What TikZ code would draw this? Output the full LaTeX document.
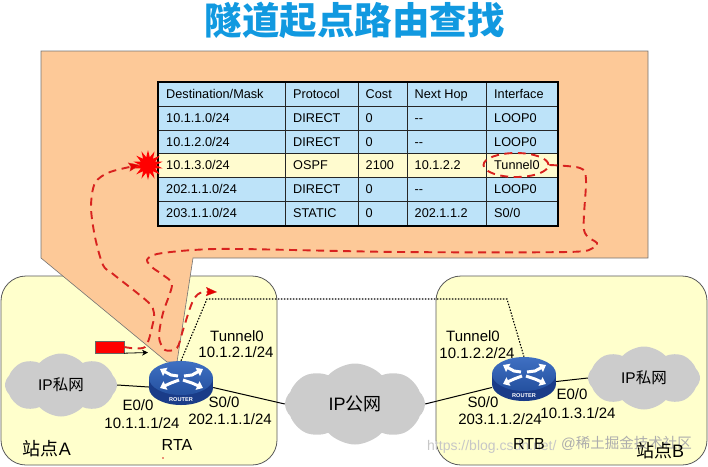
\documentclass[tikz,border=0pt]{standalone}
\usepackage{fontspec}
\setmainfont{Liberation Sans}
\newfontfamily\cjk{Noto Sans CJK SC}
\usetikzlibrary{arrows.meta,shapes.geometric,shapes.symbols}
\definecolor{sitefill}{HTML}{FFFFCC}
\definecolor{calloutfill}{HTML}{FDC998}
\definecolor{rowblue}{HTML}{BDE3F9}
\definecolor{rowyellow}{HTML}{FFFBCF}
\definecolor{cloudgray}{HTML}{CCCCCC}
\definecolor{traceline}{HTML}{D8221F}
\definecolor{titleblue}{HTML}{1199E0}
\definecolor{routertop}{HTML}{3F70C2}
\definecolor{routerlow}{HTML}{24509F}
\definecolor{routerbase}{HTML}{1A3C88}
\begin{document}
\begin{tikzpicture}[x=1pt,y=-1pt,
		sitebox/.style={draw=black!65, fill=sitefill, rounded corners=25pt, line width=0.8pt},
		cell/.style={anchor=west, inner sep=0pt, text height=9pt, text depth=1pt, font=\fontsize{12.7}{14}\selectfont},
		iflabel/.style={inner sep=0pt, font=\fontsize{15}{17}\selectfont},
		sitelabel/.style={inner sep=0pt, font=\fontsize{18}{20}\selectfont},
		netcloud/.style={cloud, cloud puffs=8, cloud puff arc=95, aspect=1.8, fill=cloudgray, inner sep=0pt, font=\fontsize{15.5}{17}\selectfont},
		routernode/.style={ellipse, minimum width=64pt, minimum height=45pt, inner sep=0pt},
		link/.style={line width=1pt},
		trace/.style={traceline, line width=1.9pt, dash pattern=on 8pt off 5.5pt},
		tracetip/.style={-{Stealth[length=11pt,width=9pt,fill=red!90!black,line width=0.3pt,inset=2pt]}},
		tunnelpath/.style={line width=1.1pt, dash pattern=on 1.5pt off 1.5pt},
		routerarrow/.style={white, line width=3pt, -{Triangle[length=6pt,width=9pt]}},
		pics/routericon/.style={code={
			\fill[routerbase] (-32,0) rectangle (32,10);
			\fill[routerbase] (0,10) ellipse (32pt and 17pt);
			\shade[top color=routertop, bottom color=routerlow] (0,0) ellipse (32pt and 17pt);
			\draw[routerarrow] (-3,-2) -- (-10,-3) -- (-21,-9);
			\draw[routerarrow] (-2,2) -- (-10,5) -- (-21,10);
			\draw[routerarrow] (3,-2) -- (11,-3) -- (22,-9);
			\draw[routerarrow] (2,2) -- (11,5) -- (22,10);
			\node[white, inner sep=0pt, font=\bfseries\fontsize{5.6}{6}\selectfont] at (0,22) {ROUTER};
		}}]
	\useasboundingbox (0,0) rectangle (708,466);

	\node[text=titleblue, inner sep=0pt, font=\cjk\bfseries\fontsize{37.5}{40}\selectfont] (title) at (354.5,20.5) {隧道起点路由查找};

	% sites and the callout on top of them
	\draw[sitebox] (1,276) rectangle (277,465);
	\draw[sitebox] (436,276) rectangle (707,465);
	\draw[draw=black!55, fill=calloutfill, line width=0.6pt] (41,51) -- (648,51) -- (648,258) -- (193,258) -- (177,362) -- (167,362) -- (41,258) -- cycle;

	% routing table
	\fill[rowblue] (158,82) rectangle (558,226);
	\fill[rowyellow] (158,153) rectangle (558,177);
	\foreach \yy in {106,130,153,177,201}
		\draw[black!85, line width=0.8pt] (158,\yy) -- (558,\yy);
	\foreach \xx in {285,358,407,486}
		\draw[black!85, line width=0.8pt] (\xx,82) -- (\xx,226);
	\draw[line width=1.8pt] (158,82) rectangle (558,226);
	\foreach \yy/\dest/\proto/\cost/\hop/\port [count=\r] in {
		94/Destination\slash Mask/Protocol/Cost/Next Hop/Interface,
		118/10.1.1.0\slash 24/DIRECT/0/-{}-/LOOP0,
		142/10.1.2.0\slash 24/DIRECT/0/-{}-/LOOP0,
		165/10.1.3.0\slash 24/OSPF/2100/10.1.2.2/Tunnel0,
		189/202.1.1.0\slash 24/DIRECT/0/-{}-/LOOP0,
		213/203.1.1.0\slash 24/STATIC/0/202.1.1.2/S0\slash 0}{
		\node[cell] (dest\r) at (166,\yy) {\dest};
		\node[cell] (proto\r) at (293,\yy) {\proto};
		\node[cell] (cost\r) at (365.5,\yy) {\cost};
		\node[cell] (hop\r) at (414.5,\yy) {\hop};
		\node[cell] (port\r) at (494,\yy) {\port};
	}

	% networks and routers
	\node[netcloud, minimum width=112pt, minimum height=63pt] (ipA) at (61,385) {IP{\cjk 私网}};
	\node[netcloud, minimum width=140pt, minimum height=81pt, font=\fontsize{18}{20}\selectfont] (ipPub) at (355,404) {IP{\cjk 公网}};
	\node[netcloud, minimum width=112pt, minimum height=63pt] (ipB) at (644,378) {IP{\cjk 私网}};
	\node[routernode] (rta) at (181,383.5) {};
	\node[routernode] (rtb) at (524,379.5) {};
	\pic at (181,378) {routericon};
	\pic at (524,374) {routericon};

	\draw[link] (ipA.east) -- ([yshift=-3.5pt]rta.west);
	\draw[link] ([yshift=-4pt]rta.east) -- (ipPub.west);
	\draw[link] (ipPub.east) -- ([yshift=-8pt]rtb.west);
	\draw[link] ([yshift=-2pt]rtb.east) -- (ipB.west);

	\coordinate (tunnelA) at (207,299);
	\coordinate (tunnelB) at (507,299);
	\draw[tunnelpath] (rta.north) -- (tunnelA) -- (tunnelB) -- (rtb.north);

	% faint marks along the bottom
	\node[black!22, inner sep=0pt, anchor=west, font=\fontsize{14}{16}\selectfont] (markUrl) at (427,447) {https://blog.csdn.net/};
	\node[black!32, inner sep=0pt, anchor=west, font=\fontsize{14.5}{16}\selectfont] (markSite) at (561,443) {@{\cjk 稀土掘金技术社区}};

	% interface labels
	\node[iflabel] (tunA) at (237,336) {Tunnel0};
	\node[iflabel] (tunAip) at (236,352.5) {10.1.2.1/24};
	\node[iflabel] (ethA) at (138,405) {E0/0};
	\node[iflabel] (ethAip) at (142,423) {10.1.1.1/24};
	\node[iflabel] (serA) at (224,402.5) {S0/0};
	\node[iflabel] (serAip) at (230,419) {202.1.1.1/24};
	\node[iflabel] (tunB) at (473,336) {Tunnel0};
	\node[iflabel] (tunBip) at (477,353) {10.1.2.2/24};
	\node[iflabel] (serB) at (483,402.5) {S0/0};
	\node[iflabel] (serBip) at (500,419) {203.1.1.2/24};
	\node[iflabel] (ethB) at (572,394) {E0/0};
	\node[iflabel] (ethBip) at (578,413) {10.1.3.1/24};
	\node[sitelabel] (siteA) at (47,449) {{\cjk 站点}A};
	\node[sitelabel] (siteB) at (660,451) {{\cjk 站点}B};
	\node[iflabel, font=\fontsize{16}{18}\selectfont] (nameA) at (177,445) {RTA};
	\node[iflabel, font=\fontsize{16}{18}\selectfont] (nameB) at (529,444) {RTB};

	% packet and lookup trace
	\node[draw=black!60, fill=red, minimum width=29pt, minimum height=12pt, inner sep=0pt, line width=0.4pt] (packet) at (109.5,347) {};
	\coordinate (packetEnd) at (148,352.5);
	\draw[-{Stealth[length=6pt,width=6pt]}, line width=0.8pt] (packet.south east) -- (packetEnd);
	\node[star, star points=14, star point ratio=1.9, fill=red, minimum size=30pt, inner sep=0pt] (hit) at (148,165) {};
	\node[ellipse, trace, draw, minimum width=65pt, minimum height=24pt, inner sep=0pt] (tunnelMark) at (516,165) {};
	\coordinate (traceEnd) at (217,292);

	\draw[trace, tracetip, smooth] plot coordinates {(packet.east) (145,347) (153,323) (154,313) (148,302) (113,274) (103,265) (95,237) (91,207) (95,183) (110,172) (hit.west)};
	\draw[trace, tracetip, smooth] plot coordinates {(tunnelMark.east) (580,168) (586,180) (584,230) (597,243) (593,248) (567,252) (400,252) (240,249) (193,250) (157,254) (147,260) (153,268) (163,275) (172,285) (163,313) (159,337) (165,350) (177,348) (183,330) (192,303) (200,293) (traceEnd)};
	\fill[traceline] (163,458) circle (0.8pt);
\end{tikzpicture}
\end{document}
